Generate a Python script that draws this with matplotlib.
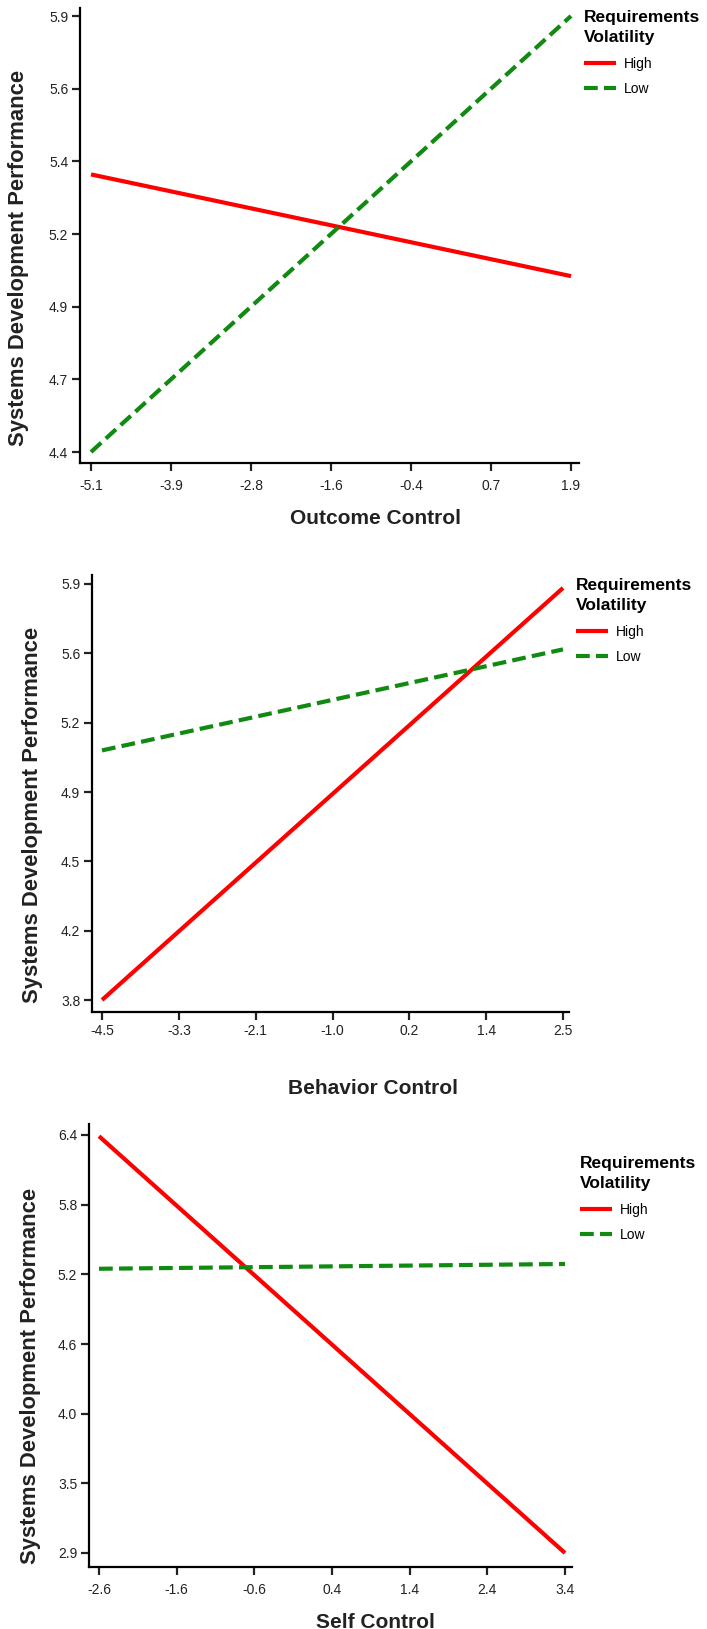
import numpy as np
import matplotlib
matplotlib.use("Agg")
import matplotlib.pyplot as plt

plt.rcParams['font.family'] = ['Liberation Sans', 'DejaVu Sans']

# --- data: simple slopes, two levels of requirements volatility ---
series_names = ['High', 'Low']
y_title = 'Systems Development Performance'
legend_title = 'Requirements\nVolatility'

# panel 1: outcome control
x1 = [-5.1, 1.9]
high1 = [5.355, 5.005]
low1 = [4.40, 5.90]
xlabels1 = ['-5.1', '-3.9', '-2.8', '-1.6', '-0.4', '0.7', '1.9']
ylabels1 = ['4.4', '4.7', '4.9', '5.2', '5.4', '5.6', '5.9']
yrange1 = [4.4, 5.9]

# panel 2: behavior control
x2 = [-4.5, 2.5]
high2 = [3.80, 5.88]
low2 = [5.06, 5.57]
xlabels2 = ['-4.5', '-3.3', '-2.1', '-1.0', '0.2', '1.4', '2.5']
ylabels2 = ['3.8', '4.2', '4.5', '4.9', '5.2', '5.6', '5.9']
yrange2 = [3.8, 5.9]

# panel 3: self control
x3 = [-2.6, 3.4]
high3 = [6.39, 2.90]
low3 = [5.28, 5.32]
xlabels3 = ['-2.6', '-1.6', '-0.6', '0.4', '1.4', '2.4', '3.4']
ylabels3 = ['2.9', '3.5', '4.0', '4.6', '5.2', '5.8', '6.4']
yrange3 = [2.9, 6.4]

RED = '#ff0000'
GREEN = '#118a11'
W, H = 707, 1629
fig = plt.figure(figsize=(W / 100, H / 100), dpi=100)


def panel(x, high, low, xlabels, ylabels, yrange, xtitle, px):
    # px: pixel layout of the panel (left, right, top, bottom, tick pixels, label spots)
    l, r, t, b = px['box']
    ax = fig.add_axes([l / W, 1 - b / H, (r - l) / W, (b - t) / H])
    ax.plot(x, high, color=RED, lw=3, solid_capstyle='butt', label=series_names[0])
    ax.plot(x, low, color=GREEN, lw=3, dashes=(3.3, 1.5), label=series_names[1])

    xt = np.linspace(x[0], x[-1], len(xlabels))
    yt = np.linspace(yrange[0], yrange[1], len(ylabels))
    ax.set_xticks(xt, xlabels)
    ax.set_yticks(yt, ylabels)

    tx0, tx1 = px['xt']
    sx = (tx1 - tx0) / (x[-1] - x[0])
    ax.set_xlim(x[0] - (tx0 - l) / sx, x[-1] + (r - tx1) / sx)
    ty0, ty1 = px['yt']
    sy = (ty0 - ty1) / (yrange[1] - yrange[0])
    ax.set_ylim(yrange[0] - (b - ty0) / sy, yrange[1] + (ty1 - t) / sy)

    for s in ['top', 'right']:
        ax.spines[s].set_visible(False)
    for s in ['left', 'bottom']:
        ax.spines[s].set_linewidth(1.6)
    ax.tick_params(direction='out', length=5.5, width=1.6, labelsize=10, colors='#222222')
    ax.tick_params(axis='x', pad=px.get('xpad', 6))
    ax.tick_params(axis='y', pad=3)

    ax.set_xlabel(xtitle, fontsize=15, fontweight='bold', va='center', color='#222222')
    ax.xaxis.set_label_coords(px['xl'][0] / W, 1 - px['xl'][1] / H, transform=fig.transFigure)
    ax.set_ylabel(y_title, fontsize=15.8, fontweight='bold', va='center', color='#222222')
    ax.yaxis.set_label_coords(px['yl'][0] / W, 1 - px['yl'][1] / H, transform=fig.transFigure)

    lx, ly = px['leg']
    leg = ax.legend(loc='upper left', bbox_to_anchor=(lx / W, 1 - ly / H),
                    bbox_transform=fig.transFigure, frameon=False, fontsize=10,
                    title=legend_title, alignment='left',
                    title_fontproperties={'weight': 'bold', 'size': 12.5},
                    borderpad=0, borderaxespad=0, handlelength=2.3,
                    handletextpad=0.6, labelspacing=0.8)
    leg.get_title().set_linespacing(1.45)
    return ax


panel(x1, high1, low1, xlabels1, ylabels1, yrange1, 'Outcome Control',
      {'box': (80, 579, 8, 463), 'xt': (91, 571), 'yt': (452, 16),
       'xl': (375, 518), 'yl': (19, 258), 'leg': (584, 10)})
panel(x2, high2, low2, xlabels2, ylabels2, yrange2, 'Behavior Control',
      {'box': (92, 569, 575, 1012), 'xt': (102, 563), 'yt': (1000, 584),
       'xl': (373, 1088), 'yl': (33, 815), 'leg': (576, 578), 'xpad': 3})
panel(x3, high3, low3, xlabels3, ylabels3, yrange3, 'Self Control',
      {'box': (89, 572, 1124, 1567), 'xt': (99, 565), 'yt': (1553, 1135),
       'xl': (375, 1622), 'yl': (31, 1376), 'leg': (580, 1156)})

fig.savefig('out.png', dpi=100)
